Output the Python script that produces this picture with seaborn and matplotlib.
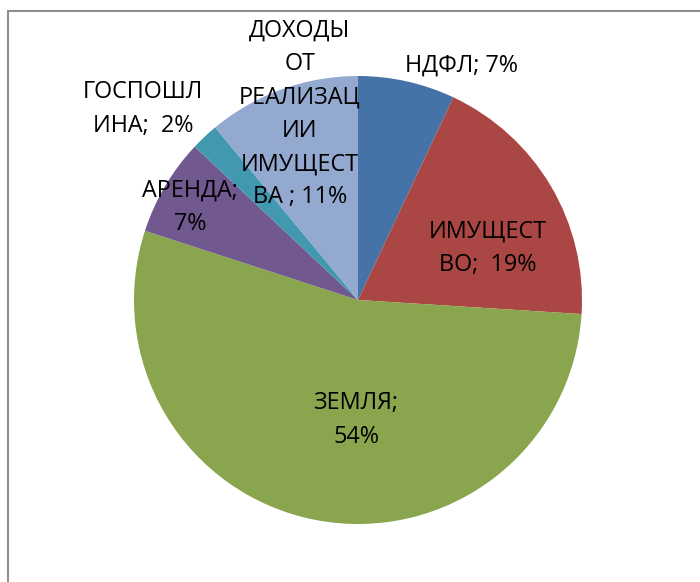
import matplotlib
matplotlib.use("Agg")
import matplotlib.pyplot as plt
from matplotlib.lines import Line2D
import seaborn as sns

# ---- data ----
categories = ["НДФЛ", "ИМУЩЕСТВО", "ЗЕМЛЯ", "АРЕНДА", "ГОСПОШЛИНА",
              "ДОХОДЫ ОТ РЕАЛИЗАЦИИ ИМУЩЕСТВА"]
values = [7, 19, 54, 7, 2, 11]
wrapped_names = ["НДФЛ", "ИМУЩЕСТ\nВО", "ЗЕМЛЯ", "АРЕНДА", "ГОСПОШЛ\nИНА",
                 "ДОХОДЫ\nОТ\nРЕАЛИЗАЦ\nИИ\nИМУЩЕСТ\nВА "]
separators = ["; ", ";  ", ";\n", ";\n", ";  ", "; "]
colors = ["#4572A7", "#AA4643", "#89A54E", "#71588F", "#4198AF", "#93A9CF"]

# ---- layout (label centres in units of pie radius) ----
label_pos = [(0.464, 1.045), (0.580, 0.232), (-0.009, -0.536),
             (-0.75, 0.415), (-0.96, 0.853), (-0.259, 0.830)]

sns.set_theme(style="white")
plt.rcParams["font.family"] = ["Open Sans", "DejaVu Sans"]

W, H, DPI = 700, 582, 100
fig = plt.figure(figsize=(W / DPI, H / DPI), dpi=DPI)
fig.patch.set_facecolor("white")
ax = fig.add_axes([0, 0, 1, 1])

cx, cy, r = 358, 300, 224
pal = sns.color_palette(colors)
ax.pie(values, colors=pal, startangle=90, counterclock=False,
       radius=1, center=(0, 0), wedgeprops=dict(linewidth=0))

ax.set_xlim((0 - cx) / r, (W - cx) / r)
ax.set_ylim((cy - H) / r, (cy - 0) / r)
ax.set_aspect("auto")
ax.axis("off")

for name, sep, v, (x, y) in zip(wrapped_names, separators, values, label_pos):
    ax.text(x, y, f"{name}{sep}{v}%", ha="center", va="center",
            fontsize=16.8, color="black", linespacing=1.52)

# frame
fx = 7.5 / W
fy = 1 - 10.5 / H
fig.add_artist(Line2D([fx, 1.0], [fy, fy], transform=fig.transFigure,
                      color="#8c8c8c", linewidth=1.5))
fig.add_artist(Line2D([fx, fx], [0, fy], transform=fig.transFigure,
                      color="#8c8c8c", linewidth=1.5))

fig.savefig("out.png", dpi=DPI)
